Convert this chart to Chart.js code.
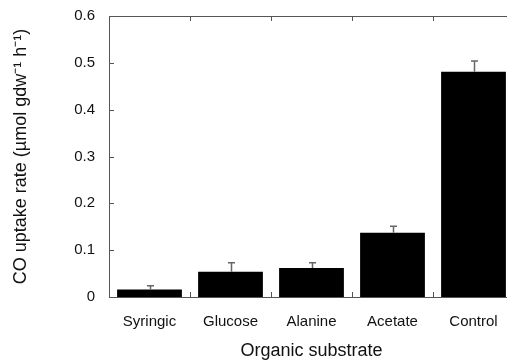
<!DOCTYPE html>
<html>
<head>
<meta charset="utf-8">
<script src="https://cdn.jsdelivr.net/npm/chart.js@4/dist/chart.umd.min.js"></script>
<style>
  html, body { margin: 0; padding: 0; background: #fff; overflow: hidden; }
  #wrap { width: 520px; height: 362px; }
</style>
</head>
<body>
<div id="wrap"><canvas id="myChart"></canvas></div>
<script>
// данные графика
const substrates = ['Syringic', 'Glucose', 'Alanine', 'Acetate', 'Control'];
const uptakeRate = [0.016, 0.054, 0.062, 0.137, 0.481];
const uptakeErr = [0.008, 0.019, 0.011, 0.014, 0.023];
const yTicks = [0, 0.1, 0.2, 0.3, 0.4, 0.5, 0.6];

const font = '"Liberation Sans", Arial, sans-serif';

// рамка и внутренние засечки
const framePlugin = {
  id: 'frame',
  afterDraw(chart) {
    const { ctx, chartArea: a, scales } = chart;
    ctx.save();
    ctx.strokeStyle = '#555';
    ctx.lineWidth = 1;
    ctx.strokeRect(a.left + 0.5, a.top + 0.5, a.right - a.left, a.bottom - a.top);
    ctx.beginPath();
    yTicks.forEach((v) => {
      const y = Math.round(scales.y.getPixelForValue(v)) + 0.5;
      ctx.moveTo(a.left, y);
      ctx.lineTo(a.left + 5, y);
    });
    for (let i = 0; i < substrates.length - 1; i += 1) {
      const x = Math.round((scales.x.getPixelForValue(i) + scales.x.getPixelForValue(i + 1)) / 2) + 0.5;
      ctx.moveTo(x, a.bottom);
      ctx.lineTo(x, a.bottom - 5);
      ctx.moveTo(x, a.top);
      ctx.lineTo(x, a.top + 5);
    }
    ctx.stroke();
    ctx.restore();
  },
};

// планки погрешностей (только вверх)
const errorPlugin = {
  id: 'errorBars',
  afterDatasetsDraw(chart) {
    const { ctx, scales } = chart;
    const meta = chart.getDatasetMeta(0);
    ctx.save();
    ctx.strokeStyle = '#666';
    ctx.lineWidth = 1.5;
    meta.data.forEach((bar, i) => {
      const x = Math.round(bar.x) + 0.5;
      const yTop = scales.y.getPixelForValue(uptakeRate[i] + uptakeErr[i]);
      ctx.beginPath();
      ctx.moveTo(x, bar.y);
      ctx.lineTo(x, yTop);
      ctx.moveTo(x - 3.5, yTop);
      ctx.lineTo(x + 3.5, yTop);
      ctx.stroke();
    });
    ctx.restore();
  },
};

const config = {
  type: 'bar',
  data: {
    labels: substrates,
    datasets: [{
      data: uptakeRate,
      backgroundColor: '#000',
      borderWidth: 0,
      barPercentage: 0.8,
      categoryPercentage: 1,
    }],
  },
  options: {
    responsive: true,
    maintainAspectRatio: false,
    animation: false,
    layout: { padding: { top: 16, right: 6, left: 0, bottom: 0 } },
    plugins: {
      legend: { display: false },
      tooltip: { enabled: false },
    },
    scales: {
      x: {
        grid: { display: false, drawTicks: false },
        border: { display: false },
        ticks: { color: '#111', font: { family: font, size: 15 }, padding: 16 },
        title: {
          display: true,
          text: 'Organic substrate',
          color: '#111',
          font: { family: font, size: 18 },
          padding: { top: 10, bottom: 0 },
        },
        afterFit: (scale) => { scale.height = 65; },
      },
      y: {
        min: 0,
        max: 0.6,
        afterBuildTicks: (scale) => { scale.ticks = yTicks.map((v) => ({ value: v })); },
        grid: { display: false, drawTicks: false },
        border: { display: false },
        ticks: {
          color: '#111',
          font: { family: font, size: 15 },
          padding: 14,
          callback: (v) => String(Math.round(v * 10) / 10),
        },
        title: {
          display: true,
          text: 'CO uptake rate (µmol gdw⁻¹ h⁻¹)',
          color: '#111',
          font: { family: font, size: 18 },
          padding: { top: 10, bottom: 0 },
        },
        afterFit: (scale) => {
          scale.width = 109;
          scale.paddingTop = 0;
          scale.paddingBottom = 0;
        },
      },
    },
  },
  plugins: [framePlugin, errorPlugin],
};

const myChart = new Chart(document.getElementById('myChart'), config);
</script>
</body>
</html>
